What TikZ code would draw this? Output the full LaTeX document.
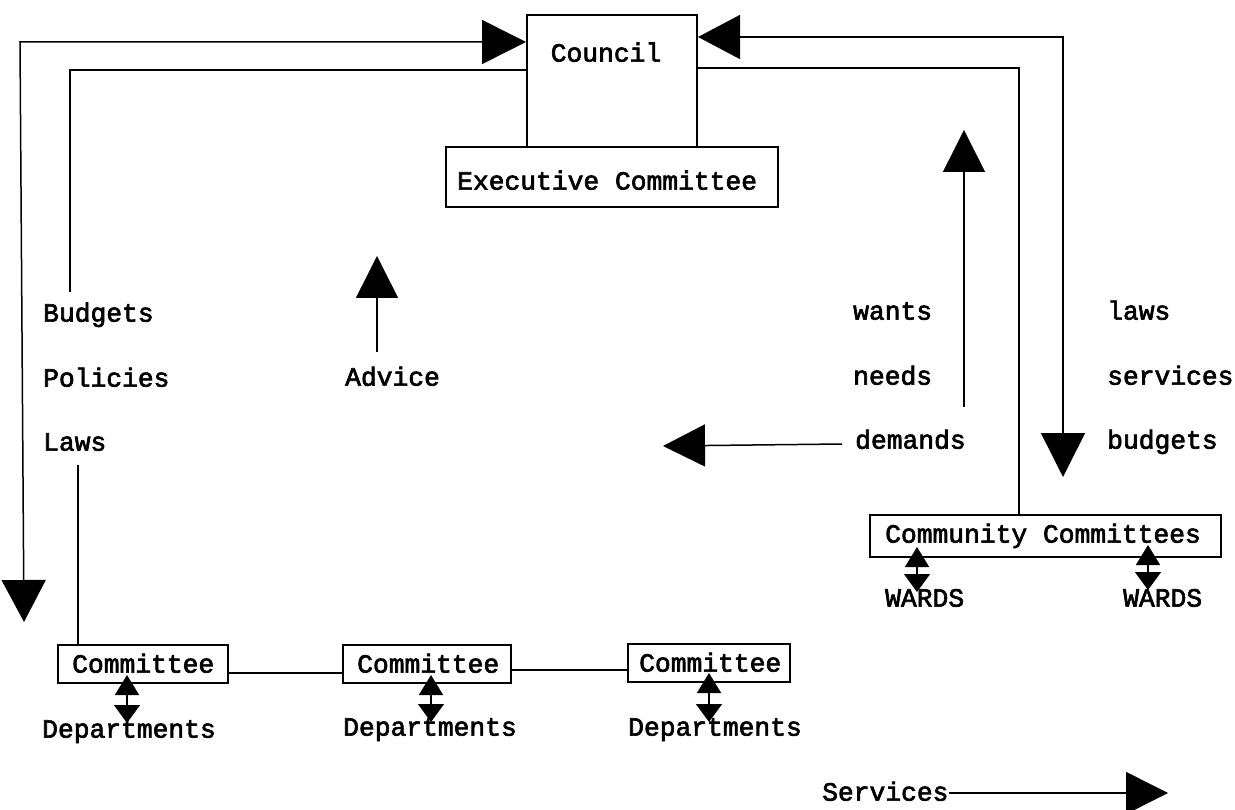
\documentclass[tikz,border=0pt]{standalone}
\usepackage{fontspec}
\setmainfont{Liberation Mono}
\newfontfamily\twfont{Liberation Mono}[FakeBold=2.5]
\usetikzlibrary{arrows.meta}
\begin{document}
\begin{tikzpicture}[x=1pt,y=-1pt,
  every node/.style={font=\twfont\fontsize{26.3}{30}\selectfont},
  box/.style={draw,line width=2pt,inner sep=0pt},
  txt/.style={inner sep=0pt,anchor=mid west},
  conn/.style={line width=1.5pt},
  big/.style={conn,-{Triangle[length=42pt,width=42pt]}},
  bigboth/.style={conn,{Triangle[length=42pt,width=44pt]}-{Triangle[length=44pt,width=44pt]}},
  small/.style={conn,{Triangle[length=20pt,width=24pt]}-{Triangle[length=18pt,width=26pt]}}]
\useasboundingbox (0,0) rectangle (1235,810);
% boxes
\node[box,minimum width=170pt,minimum height=132pt] (council) at (612,81) {};
\node[inner sep=0pt,anchor=mid] (councillbl) at (606,59) {Council};
\node[box,minimum width=332pt,minimum height=60pt] (exec) at (612,177) {};
\node[inner sep=0pt,anchor=mid west] (execlbl) at (457,187) {Executive Committee};
\node[box,minimum width=351pt,minimum height=42pt] (cc) at (1045.5,536) {};
\node[txt] (cclbl) at (885,540) {Community Committees};
\node[box,minimum width=170pt,minimum height=38pt] (c1) at (143,664) {};
\node[box,minimum width=168pt,minimum height=38pt] (c2) at (427,664) {};
\node[box,minimum width=162pt,minimum height=38pt] (c3) at (709,663) {};
\node[txt] (c1lbl) at (72,670) {Committee};
\node[txt] (c2lbl) at (357,670) {Committee};
\node[txt] (c3lbl) at (639,669) {Committee};
% texts
\node[txt] (budgets) at (43,319) {Budgets};
\node[txt] (policies) at (43,384) {Policies};
\node[txt] (lawsL) at (43,448) {Laws};
\node[txt] (advice) at (345,383) {Advice};
\node[txt] (wants) at (853,317) {wants};
\node[txt] (needs) at (853,382) {needs};
\node[txt] (demands) at (855,446) {demands};
\node[txt] (lawsR) at (1107,317) {laws};
\node[txt] (servicesR) at (1107,382) {services};
\node[txt] (budgetsR) at (1107,446) {budgets};
\node[txt] (w1) at (885,604) {WARDS};
\node[txt] (w2) at (1123,604) {WARDS};
\node[txt] (d1) at (42,735) {Departments};
\node[txt] (d2) at (343,733) {Departments};
\node[txt] (d3) at (628,733) {Departments};
\node[txt] (services) at (822,798) {Services};
% coordinates
\coordinate (L1) at (24,622);
\coordinate (L2) at (20,42);
\coordinate (I1) at (70,70);
\coordinate (I2) at (70,292);
\coordinate (I3) at (78,465);
\coordinate (R1) at (1063,37);
\coordinate (R2) at (1063,477);
\coordinate (R3) at (1019,68);
\coordinate (W1) at (964,407);
\coordinate (W2) at (964,130);
\coordinate (A1) at (377,352);
\coordinate (A2) at (377,256);
\coordinate (D1) at (842,444);
\coordinate (D2) at (663,446);
\coordinate (S1) at (950,793);
\coordinate (S2) at (1168,793);
\coordinate (sa1) at (127,675);  \coordinate (sb1) at (127,723);
\coordinate (sa2) at (431,675);  \coordinate (sb2) at (431,722);
\coordinate (sa3) at (709,673);  \coordinate (sb3) at (709,722);
\coordinate (sa4) at (917,547);  \coordinate (sb4) at (917,592);
\coordinate (sa5) at (1148,545); \coordinate (sb5) at (1148,590);
% connectors
\draw[bigboth] (L1) -- (L2) -- (council.west |- L2);
\draw[conn] (council.west |- I1) -- (I1) -- (I2);
\draw[conn] (I3) -- (I3 |- c1.north);
\draw[bigboth] (council.east |- R1) -- (R1) -- (R2);
\draw[conn] (council.east |- R3) -- (R3) -- (R3 |- cc.north);
\draw[big] (W1) -- (W2);
\draw[big] (A1) -- (A2);
\draw[big] (D1) -- (D2);
\draw[big] (services.east |- S1) -- (S2);
\draw[conn] (c1.east |- 0,673) -- (c2.west |- 0,673);
\draw[conn] (c2.east |- 0,670) -- (c3.west |- 0,670);
\draw[small] (sa1) -- (sb1);
\draw[small] (sa2) -- (sb2);
\draw[small] (sa3) -- (sb3);
\draw[small] (sa4) -- (sb4);
\draw[small] (sa5) -- (sb5);
\end{tikzpicture}
\end{document}
